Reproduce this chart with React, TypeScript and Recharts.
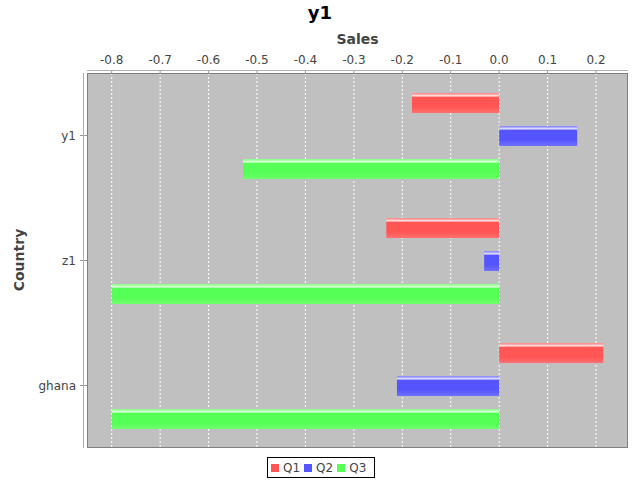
import React from "react";
import { BarChart, Bar, XAxis, YAxis, CartesianGrid } from "recharts";

const categories = ["y1", "z1", "ghana"];
const q1 = [-0.18, -0.233, 0.215];
const q2 = [0.161, -0.031, -0.211];
const q3 = [-0.529, -0.8, -0.8];
const xTicks = [-0.8, -0.7, -0.6, -0.5, -0.4, -0.3, -0.2, -0.1, 0.0, 0.1, 0.2];
const xDomain = [-0.851, 0.266];

const series = [
  { key: "Q1", color: "#FF5555", light: "#FF9090", hi: "#FFD8D8", bottom: "#FF7070" },
  { key: "Q2", color: "#5555FF", light: "#9090FF", hi: "#D8D8FF", bottom: "#7070FF" },
  { key: "Q3", color: "#55FF55", light: "#90FF90", hi: "#D8FFD8", bottom: "#70FF70" },
];

const data = categories.map((name, i) => ({ name, Q1: q1[i], Q2: q2[i], Q3: q3[i] }));

const W = 640;
const H = 480;
const PLOT = { left: 87, top: 73, right: 628, bottom: 448 };
const FONT = "'DejaVu Sans', sans-serif";

export default function App() {
  return (
    <div style={{ position: "absolute", left: 0, top: 0, width: W, height: H, background: "#fff", fontFamily: FONT }}>
      <BarChart
        width={W}
        height={H}
        data={data}
        layout="vertical"
        margin={{ top: 0, right: W - PLOT.right, bottom: H - PLOT.bottom, left: 0 }}
        barSize={20}
        barGap={13}
      >
        <defs>
          {series.map((s) => (
            <linearGradient key={s.key} id={"grad" + s.key} x1="0" y1="0" x2="0" y2="1">
              <stop offset="0" stopColor={s.light} />
              <stop offset="0.06" stopColor={s.light} />
              <stop offset="0.1" stopColor={s.hi} />
              <stop offset="0.16" stopColor={s.hi} />
              <stop offset="0.2" stopColor={s.color} />
              <stop offset="0.7" stopColor={s.color} />
              <stop offset="1" stopColor={s.bottom} />
            </linearGradient>
          ))}
        </defs>
        <CartesianGrid horizontal={false} vertical stroke="#FFFFFF" strokeDasharray="2 2" fill="#C0C0C0" />
        <XAxis
          type="number"
          orientation="top"
          domain={xDomain}
          ticks={xTicks}
          allowDataOverflow
          height={PLOT.top}
          tickFormatter={(v: number) => v.toFixed(1)}
          tick={{ fontSize: 12, fill: "#444444", fontFamily: FONT }}
          tickSize={3}
          tickMargin={6}
          tickLine={{ stroke: "#999999" }}
          axisLine={false}
        />
        <YAxis
          type="category"
          dataKey="name"
          width={PLOT.left}
          tick={{ fontSize: 12, fill: "#444444", fontFamily: FONT }}
          tickSize={7}
          tickMargin={4}
          tickLine={{ stroke: "#999999" }}
          axisLine={false}
        />
        {series.map((s) => (
          <Bar
            key={s.key}
            dataKey={s.key}
            fill={"url(#grad" + s.key + ")"}
            isAnimationActive={false}
          />
        ))}
      </BarChart>

      <svg
        width={W}
        height={H}
        style={{ position: "absolute", left: 0, top: 0, pointerEvents: "none" }}
      >
        <rect
          x={PLOT.left + 0.5}
          y={PLOT.top + 0.5}
          width={PLOT.right - PLOT.left - 1}
          height={PLOT.bottom - PLOT.top - 1}
          fill="none"
          stroke="#808080"
          strokeWidth={1}
        />
        <line x1={PLOT.left - 3.5} y1={PLOT.top} x2={PLOT.left - 3.5} y2={PLOT.bottom} stroke="#B0B0B0" />
        <line x1={PLOT.left} y1={PLOT.top - 2.5} x2={PLOT.right} y2={PLOT.top - 2.5} stroke="#B0B0B0" />
        <rect x={PLOT.left - 4} y={PLOT.top - 3} width={4} height={3} fill="#FFFFFF" />
      </svg>

      <div
        style={{
          position: "absolute",
          left: 0,
          top: 2,
          width: W,
          textAlign: "center",
          fontSize: 18,
          fontWeight: "bold",
          color: "#000",
        }}
      >
        y1
      </div>
      <div
        style={{
          position: "absolute",
          left: PLOT.left,
          top: 31,
          width: PLOT.right - PLOT.left,
          textAlign: "center",
          fontSize: 14,
          fontWeight: "bold",
          color: "#444444",
        }}
      >
        Sales
      </div>
      <div
        style={{
          position: "absolute",
          left: 19 - 45,
          top: (PLOT.top + PLOT.bottom) / 2 - 9,
          width: 90,
          textAlign: "center",
          fontSize: 14,
          fontWeight: "bold",
          color: "#444444",
          transform: "rotate(-90deg)",
        }}
      >
        Country
      </div>
      <div
        style={{
          position: "absolute",
          left: 267,
          top: 457,
          height: 21,
          boxSizing: "border-box",
          border: "1px solid #000",
          display: "flex",
          alignItems: "center",
          padding: "0 4px 0 3px",
          fontSize: 12,
          color: "#444444",
          background: "#fff",
        }}
      >
        {series.map((s) => (
          <div key={s.key} style={{ display: "flex", alignItems: "center", marginRight: 4 }}>
            <span style={{ display: "inline-block", width: 8, height: 8, background: s.color, marginRight: 4 }} />
            <span>{s.key}</span>
          </div>
        ))}
      </div>
    </div>
  );
}
